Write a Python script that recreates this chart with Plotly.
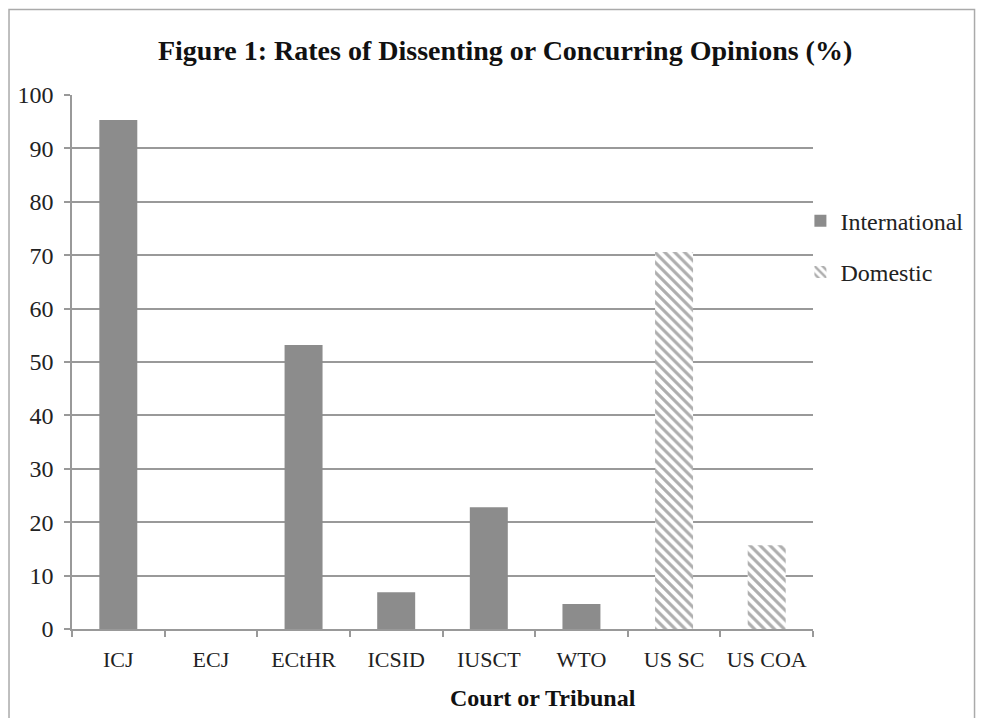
import plotly.graph_objects as go

categories = ["ICJ", "ECJ", "ECtHR", "ICSID", "IUSCT", "WTO", "US SC", "US COA"]
international = [95.3, 0, 53.2, 6.9, 22.8, 4.7, None, None]
domestic = [None, None, None, None, None, None, 70.6, 15.7]

FONT = "Liberation Serif"

fig = go.Figure()
fig.add_trace(go.Bar(
    x=categories, y=international, name="International",
    marker=dict(color="#8c8c8c", line=dict(width=0)),
    width=0.41, legendgroup="a",
))
fig.add_trace(go.Bar(
    x=categories, y=domestic, name="Domestic",
    marker=dict(color="white", line=dict(width=0),
                pattern=dict(shape="\\", fgcolor="#5e5e5e", bgcolor="white", size=7, solidity=0.45)),
    width=0.41, legendgroup="b",
))

fig.update_layout(
    width=969, height=710,
    barmode="overlay",
    paper_bgcolor="white", plot_bgcolor="white",
    margin=dict(l=64, r=164, t=87, b=89, autoexpand=False),
    font=dict(family=FONT, size=24, color="#222"),
    title=dict(text="<b>Figure 1: Rates of Dissenting or Concurring Opinions (%)</b>",
               x=0.513, xanchor="center", y=0.941, yanchor="middle",
               font=dict(family=FONT, size=28, color="#111")),
    showlegend=True,
    legend=dict(x=0.983, xanchor="left", y=0.806, yanchor="top",
                font=dict(family=FONT, size=24), tracegroupgap=17,
                traceorder="grouped", bgcolor="rgba(0,0,0,0)",
                itemwidth=30),
    xaxis=dict(
        tickson="boundaries", ticks="outside", ticklen=6, tickcolor="#999", tickwidth=1.5,
        showline=True, linecolor="#999", linewidth=1.5, showgrid=False,
        ticklabelstandoff=10, automargin=False, tickangle=0,
        tickfont=dict(family=FONT, size=22),
    ),
    yaxis=dict(
        range=[0, 100], dtick=10, ticks="outside", ticklen=6, tickcolor="#999", tickwidth=1.5,
        showline=True, linecolor="#999", linewidth=1.5, automargin=False,
        showgrid=True, gridcolor="#999", gridwidth=1.5, zeroline=False,
        ticklabelstandoff=6,
        tickfont=dict(family=FONT, size=24),
    ),
    annotations=[dict(text="<b>Court or Tribunal</b>", xref="paper", yref="paper",
                      x=0.636, y=-0.13, xanchor="center", yanchor="middle",
                      showarrow=False, font=dict(family=FONT, size=24, color="#111"))],
    shapes=[dict(type="rect", xref="paper", yref="paper",
                 x0=-0.085, x1=1.218, y0=-0.2, y1=1.16,
                 line=dict(color="#aaa", width=1.5))],
)

fig.write_html("out.html")
